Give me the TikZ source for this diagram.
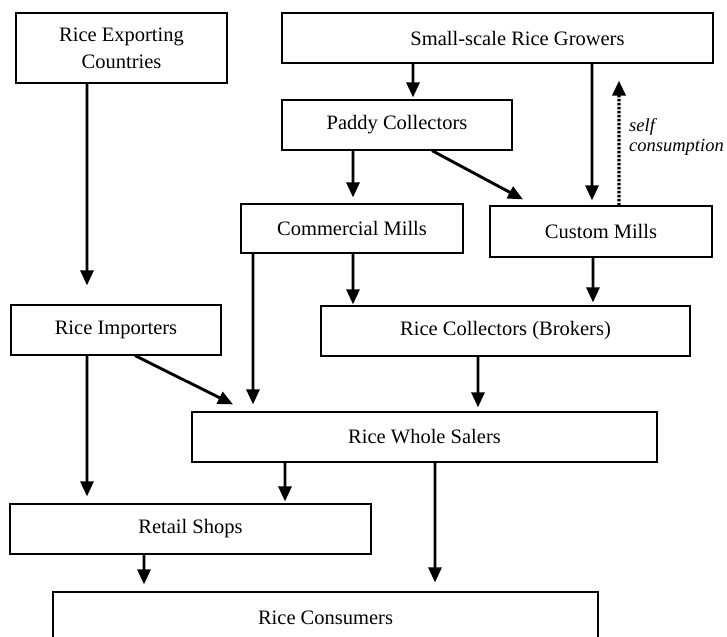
\documentclass[tikz,border=0pt]{standalone}
\usepackage{fontspec}
\setmainfont{Liberation Serif}
\usetikzlibrary{arrows.meta}
\begin{document}
\begin{tikzpicture}[x=1bp,y=-1bp,
  box/.style={draw, line width=1.2bp, rectangle, inner sep=0pt,
    font=\fontsize{20.5bp}{27bp}\selectfont},
  arr/.style={line width=2.9bp, -{Triangle[length=15bp,width=13bp]}},
  selfarr/.style={line width=3.4bp, dash pattern=on 2.4bp off 1.6bp,
    -{Triangle[length=15bp,width=13bp]}},
  note/.style={inner sep=0pt, font=\fontsize{18.5bp}{20bp}\selectfont\itshape}]
\clip (0,0) rectangle (727,637);

% boxes
\node[box, minimum width=211bp, minimum height=70bp, align=center] (exp) at (121.5,48) {Rice Exporting\\Countries};
\node[box, minimum width=431bp, minimum height=50bp] (grow) at (497.5,38) {\hspace*{40bp}Small-scale Rice Growers};
\node[box, minimum width=230bp, minimum height=50bp] (pad) at (397,125) {Paddy Collectors};
\node[box, minimum width=222bp, minimum height=49bp] (com) at (352,228.5) {Commercial Mills};
\node[box, minimum width=222bp, minimum height=51bp] (cus) at (601,231.5) {Custom Mills};
\node[box, minimum width=369bp, minimum height=50bp] (col) at (505.5,331) {Rice Collectors (Brokers)};
\node[box, minimum width=210bp, minimum height=50bp] (imp) at (116,330) {Rice Importers};
\node[box, minimum width=465bp, minimum height=50bp] (whole) at (424.5,437) {Rice Whole Salers};
\node[box, minimum width=361bp, minimum height=50bp] (retail) at (190.5,529) {Retail Shops};
\node[box, minimum width=545bp, minimum height=52bp] (cons) at (325.5,618) {Rice Consumers};

% self consumption label
\node[note, anchor=base west] (selfa) at (629,132) {self};
\node[note, anchor=base west] (selfb) at (629,152) {consumption};

% flows
\draw[arr] ([xshift=-34.5bp]exp.south) -- ([xshift=-29bp,yshift=19bp]imp.north);
\draw[arr] ([xshift=-84.5bp]grow.south) -- ([xshift=16bp,yshift=2bp]pad.north);
\draw[arr] ([xshift=94.5bp]grow.south) -- ([xshift=-9bp,yshift=5bp]cus.north);
\draw[selfarr] ([xshift=18bp]cus.north) -- ([xshift=121.5bp,yshift=-17bp]grow.south);
\draw[arr] ([xshift=35bp]pad.south) -- ([xshift=-78bp,yshift=6bp]cus.north);
\draw[arr] ([xshift=-44bp]pad.south) -- ([xshift=1bp,yshift=6bp]com.north);
\draw[arr] ([xshift=1bp]com.south) -- ([xshift=-152.5bp,yshift=1bp]col.north);
\draw[arr] ([xshift=-8bp]cus.south) -- ([xshift=87.5bp,yshift=3bp]col.north);
\draw[arr] ([xshift=-99bp]com.south) -- ([xshift=-171.5bp,yshift=7bp]whole.north);
\draw[arr] ([xshift=19bp]imp.south) -- ([xshift=-191.5bp,yshift=7bp]whole.north);
\draw[arr] ([xshift=-27.5bp]col.south) -- ([xshift=53.5bp,yshift=4bp]whole.north);
\draw[arr] ([xshift=-29bp]imp.south) -- ([xshift=-103.5bp,yshift=7bp]retail.north);
\draw[arr] ([xshift=-139.5bp]whole.south) -- ([xshift=94.5bp,yshift=2bp]retail.north);
\draw[arr] ([xshift=10.5bp]whole.south) -- ([xshift=109.5bp,yshift=9bp]cons.north);
\draw[arr] ([xshift=-46.5bp]retail.south) -- ([xshift=-181.5bp,yshift=7bp]cons.north);
\end{tikzpicture}
\end{document}
